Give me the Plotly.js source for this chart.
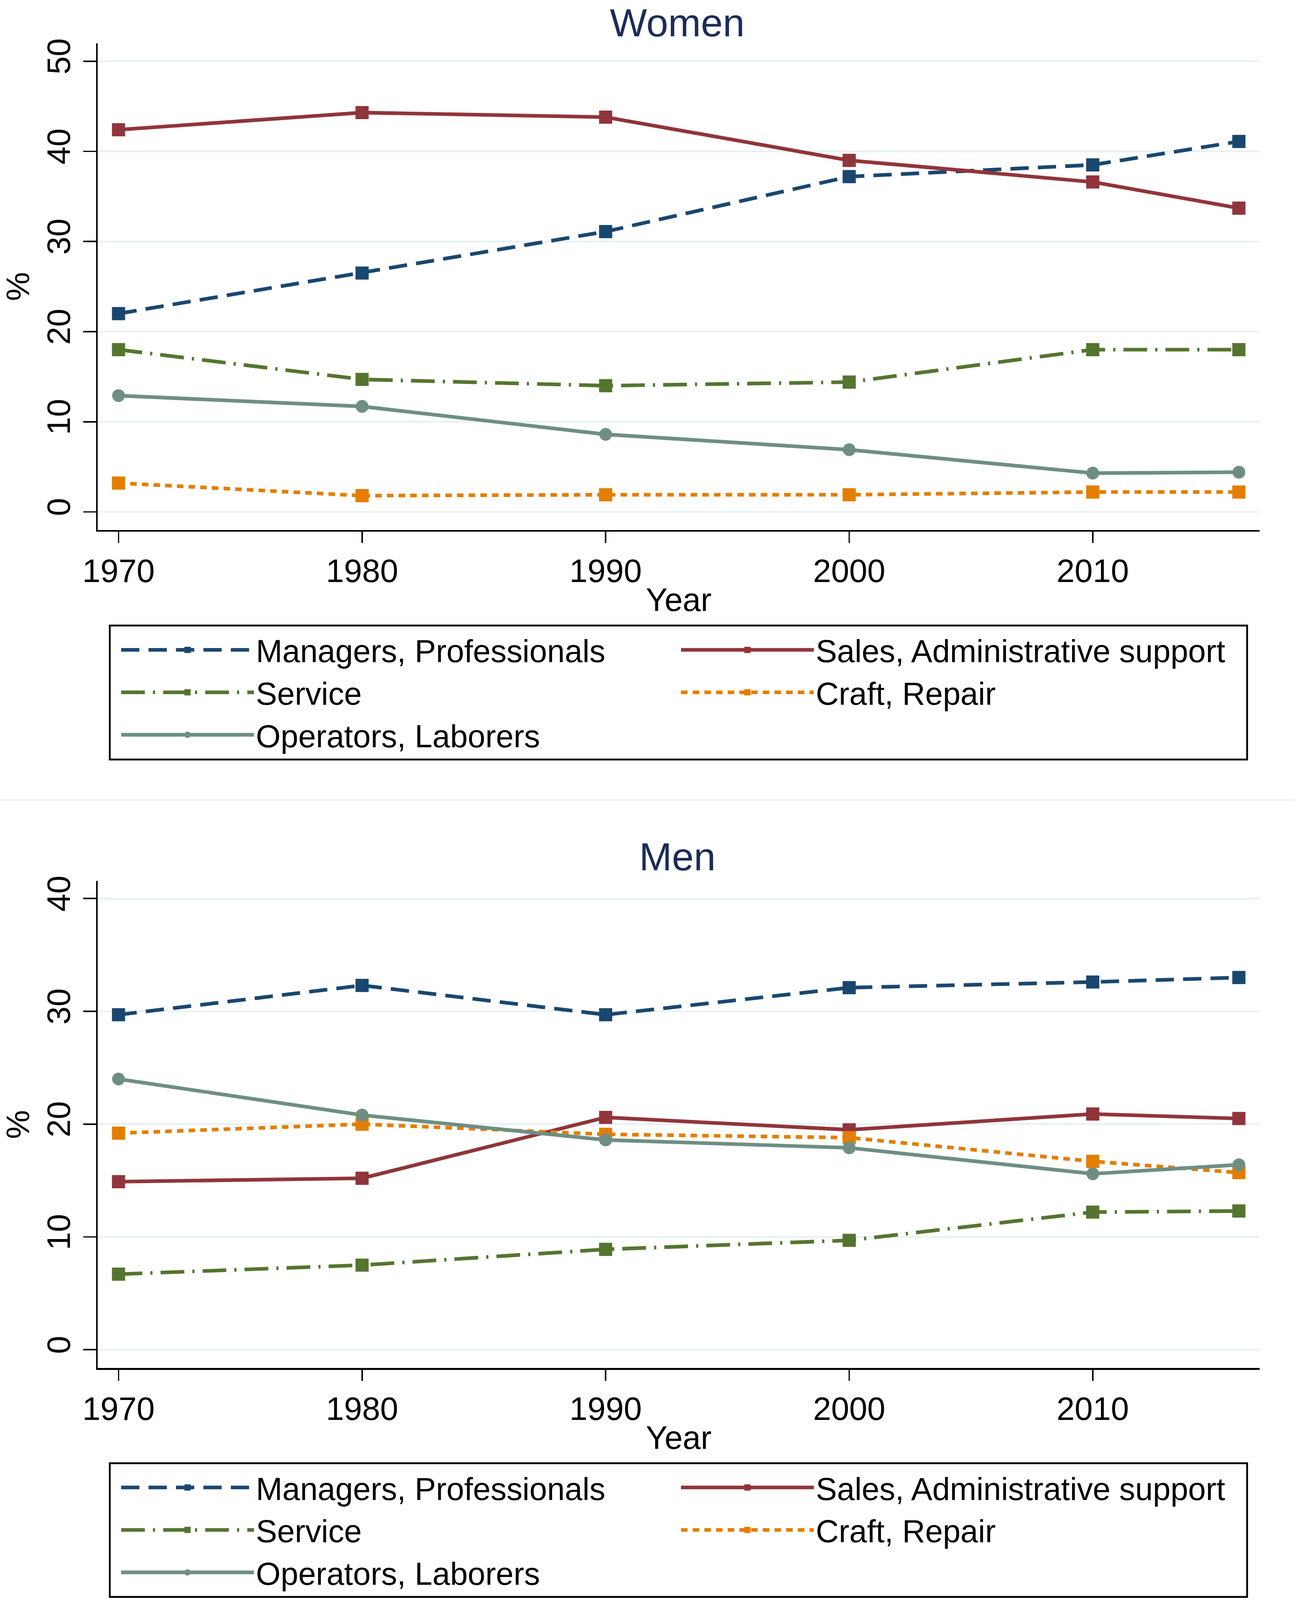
<!DOCTYPE html>
<html lang="en">

<head>
    <meta charset="utf-8">
    <title>Occupations by sex</title>
    <script src="https://cdn.plot.ly/plotly-3.0.1.min.js"></script>
    <style>
        body,
        html {
            margin: 0;
            padding: 0;
            background: #fff;
            overflow: hidden;
        }
    </style>
</head>

<body>
    <div id="plot"></div>

    <script>
        const years = [1970, 1980, 1990, 2000, 2010, 2016];
        const yearTicks = [1970, 1980, 1990, 2000, 2010];

        const groupNames = [
            'Managers, Professionals',
            'Sales, Administrative support',
            'Service',
            'Craft, Repair',
            'Operators, Laborers'
        ];

        // Women, % by occupation group
        const managersW = [22.0, 26.5, 31.1, 37.2, 38.5, 41.1];
        const salesW = [42.4, 44.3, 43.8, 39.0, 36.6, 33.7];
        const serviceW = [18.0, 14.7, 14.0, 14.4, 18.0, 18.0];
        const craftW = [3.2, 1.8, 1.9, 1.9, 2.2, 2.2];
        const operatorsW = [12.9, 11.7, 8.6, 6.9, 4.3, 4.4];

        // Men, % by occupation group
        const managersM = [29.7, 32.3, 29.7, 32.1, 32.6, 33.0];
        const salesM = [14.9, 15.2, 20.6, 19.5, 20.9, 20.5];
        const serviceM = [6.7, 7.5, 8.9, 9.7, 12.2, 12.3];
        const craftM = [19.2, 20.0, 19.1, 18.8, 16.7, 15.7];
        const operatorsM = [24.0, 20.8, 18.6, 17.9, 15.6, 16.4];

        const womenTicks = [0, 10, 20, 30, 40, 50];
        const menTicks = [0, 10, 20, 30, 40];

        // The page may be given less height than the 3312x4704 design,
        // so everything is laid out in fractions and pixel sizes are scaled.
        const W = window.innerWidth || 3312;
        const H = window.innerHeight || 4704;
        const sx = W / 3312;
        const sy = H / 4704;
        const k = (sx + sy) / 2;
        const f = 0.75 * sx + 0.25 * sy;   // text scale, mostly follows width

        // stata s2color look
        const styles = [
            { color: '#1a476f', dash: [50, 25], symbol: 'square' },
            { color: '#90353b', dash: null, symbol: 'square' },
            { color: '#55752f', dash: [65, 22, 6, 22], symbol: 'square' },
            { color: '#e37e00', dash: [18, 14], symbol: 'square' },
            { color: '#6e8e84', dash: null, symbol: 'circle' }
        ];

        const font = 'Liberation Sans, Arial, sans-serif';

        function dashString(d) {
            if (!d) return 'solid';
            return d.map(function (v) { return (v * k).toFixed(1) + 'px'; }).join(',');
        }

        function makeTraces(series, xa, ya, legend) {
            return series.map(function (vals, i) {
                const s = styles[i];
                return {
                    x: years,
                    y: vals,
                    xaxis: xa,
                    yaxis: ya,
                    legend: legend,
                    name: groupNames[i],
                    type: 'scatter',
                    mode: 'lines+markers',
                    line: { color: s.color, width: 10 * k, dash: dashString(s.dash) },
                    marker: { color: s.color, size: (s.symbol === 'circle' ? 35 : 36) * k, symbol: s.symbol },
                    cliponaxis: false
                };
            });
        }

        function xAxis(domain, anchor) {
            return {
                domain: domain,
                anchor: anchor,
                range: [1969.15, 2016.85],
                tickvals: yearTicks,
                ticks: 'outside',
                ticklen: 33 * sy,
                tickwidth: 4 * k,
                tickcolor: '#000',
                showline: true,
                linecolor: '#000',
                linewidth: 5 * k,
                showgrid: false,
                zeroline: false,
                tickfont: { family: font, size: 86 * f, color: '#000' },
                title: { text: 'Year', font: { family: font, size: 86 * f, color: '#000' }, standoff: 0 }
            };
        }

        function yAxis(domain, anchor, range, ticks) {
            return {
                domain: domain,
                anchor: anchor,
                range: range,
                tickvals: ticks,
                tickangle: -90,
                ticks: 'outside',
                ticklen: 33 * sx,
                tickwidth: 4 * k,
                tickcolor: '#000',
                showline: true,
                linecolor: '#000',
                linewidth: 5 * k,
                showgrid: true,
                gridcolor: '#eaf2f3',
                gridwidth: 5 * k,
                zeroline: false,
                tickfont: { family: font, size: 86 * f, color: '#000' },
                title: { text: '%', font: { family: font, size: 86 * f, color: '#000' }, standoff: 4 * sx }
            };
        }

        // legend boxes in paper fractions: [x0, x1, y0, y1]
        const womenBox = [281 / 3312, 3192 / 3312, 1 - 2233 / 4704, 1 - 1839 / 4704];
        const menBox = [281 / 3312, 3192 / 3312, 1 - 4695 / 4704, 1 - 4302 / 4704];

        function legendIn(box) {
            return {
                x: 305 / 3312,
                y: (box[2] + box[3]) / 2,
                xanchor: 'left',
                yanchor: 'middle',
                orientation: 'h',
                bgcolor: 'rgba(0,0,0,0)',
                borderwidth: 0,
                font: { family: font, size: 84 * f, color: '#000' },
                itemwidth: 340 * sx,
                entrywidth: 1078 * sx,
                entrywidthmode: 'pixels',
                traceorder: 'normal'
            };
        }

        function boxShape(box) {
            return {
                type: 'rect', xref: 'paper', yref: 'paper',
                x0: box[0], x1: box[1], y0: box[2], y1: box[3],
                line: { color: '#000', width: 5 * k },
                fillcolor: 'rgba(0,0,0,0)'
            };
        }

        const data = makeTraces([managersW, salesW, serviceW, craftW, operatorsW], 'x', 'y', 'legend')
            .concat(makeTraces([managersM, salesM, serviceM, craftM, operatorsM], 'x2', 'y2', 'legend2'));

        const titleFont = { family: font, size: 104 * f, color: '#1c2b5a' };

        const layout = {
            width: W,
            height: H,
            margin: { l: 0, r: 0, t: 0, b: 0 },
            paper_bgcolor: '#fff',
            plot_bgcolor: '#fff',
            showlegend: true,
            xaxis: xAxis([0.0756, 0.9734], 'y'),
            yaxis: yAxis([0.6688, 0.9730], 'x', [-2, 52], womenTicks),
            xaxis2: xAxis([0.0756, 0.9734], 'y2'),
            yaxis2: yAxis([0.1450, 0.4494], 'x2', [-1.62, 41.56], menTicks),
            legend: legendIn(womenBox),
            legend2: legendIn(menBox),
            annotations: [
                { text: 'Women', xref: 'paper', yref: 'paper', x: 0.5235, y: 1, showarrow: false, font: titleFont, yanchor: 'top' },
                { text: 'Men', xref: 'paper', yref: 'paper', x: 0.5235, y: 1 - 2519 / 4704, showarrow: false, font: titleFont, yanchor: 'middle' }
            ],
            shapes: [
                { type: 'line', xref: 'paper', yref: 'paper', x0: 0, x1: 1, y0: 1 - 2352 / 4704, y1: 1 - 2352 / 4704, line: { color: '#f0f0f0', width: 4 } },
                boxShape(womenBox),
                boxShape(menBox)
            ]
        };

        Plotly.newPlot('plot', data, layout, { staticPlot: true });
    </script>

</body>

</html>
